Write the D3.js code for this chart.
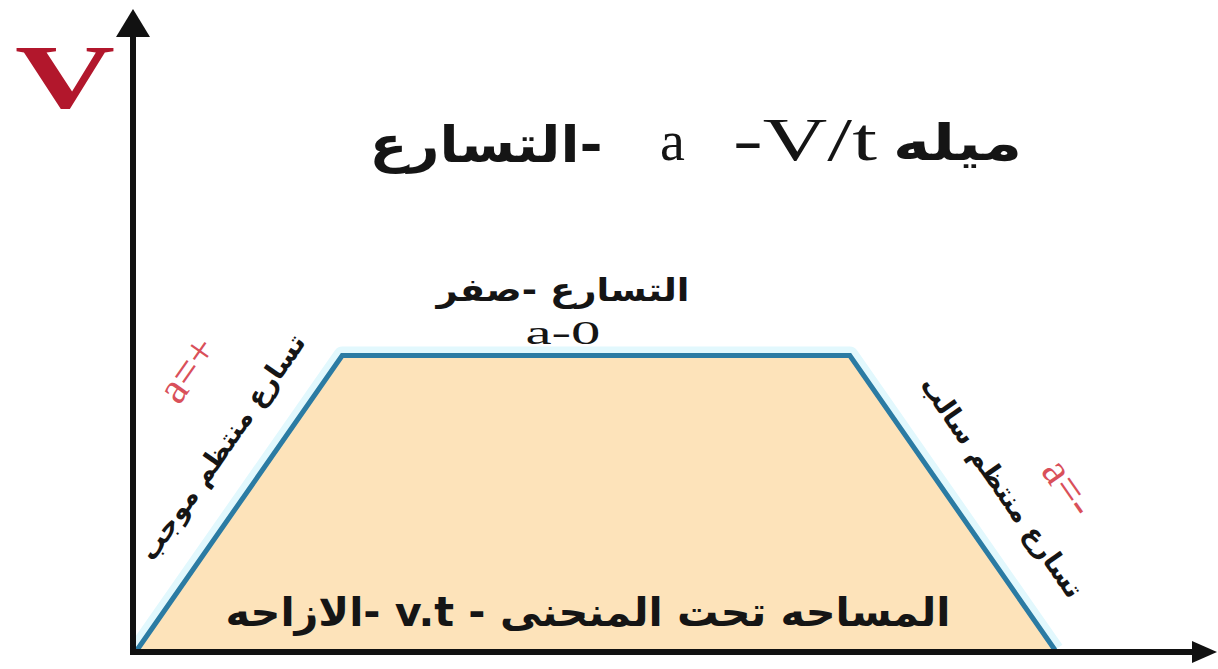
<!DOCTYPE html>
<html>
<head>
<meta charset="utf-8">
<script src="https://cdn.jsdelivr.net/npm/d3@7"></script>
<style>
  body { margin: 0; background: #fff; }
  .ar { font-family: "DejaVu Sans", sans-serif; font-weight: bold; fill: #151515; }
  .lat { font-family: "Liberation Serif", serif; fill: #151515; }
</style>
</head>
<body>
<div id="chart"></div>
<script>
// velocity-time profile: speed up, constant speed, slow down
var times = [0, 1.9, 6.6, 8.5];
var velocity = [0, 4.6, 4.6, 0];

// labels
var axisLabel = "V";
var titleLeft = "-التسارع";
var titleA = "a";
var titleVt = "-V/t";
var titleRight = "ميله";
var flatLabel = "التسارع -صفر";
var flatSub = "a-0";
var riseLabel = "تسارع منتظم موجب";
var riseSign = "a=+";
var fallLabel = "تسارع منتظم سالب";
var fallSign = "a=-";
var areaLabel = "المساحه تحت المنحنى - v.t -الازاحه";

var w = 1218, h = 669;

var svg = d3.select("#chart").append("svg")
    .attr("width", w)
    .attr("height", h);

var x = d3.scaleLinear().domain([0, 10]).range([137, 1217]);
var y = d3.scaleLinear().domain([0, 10]).range([650, 10]);

var pts = times.map(function (t, i) { return [x(t), y(velocity[i])]; });
var line = d3.line();

// soft glow outside the curve
svg.append("path")
    .attr("d", line(pts))
    .attr("fill", "none")
    .attr("stroke", "#e2f8fd")
    .attr("stroke-width", 18)
    .attr("stroke-linejoin", "round");

// area under the curve
svg.append("path")
    .attr("d", line(pts) + "Z")
    .attr("fill", "#fde3ba");

svg.append("path")
    .attr("d", line(pts))
    .attr("fill", "none")
    .attr("stroke", "#2b7ba3")
    .attr("stroke-width", 5)
    .attr("stroke-linejoin", "miter");

// axes with arrow heads
var ox = x(0) - 4, oy = y(0) + 2;
svg.append("line")
    .attr("x1", ox).attr("y1", oy + 3)
    .attr("x2", ox).attr("y2", 34)
    .attr("stroke", "#111").attr("stroke-width", 6);
svg.append("path")
    .attr("d", "M" + ox + ",9L" + (ox - 17) + ",37L" + (ox + 17) + ",37Z")
    .attr("fill", "#111");

svg.append("line")
    .attr("x1", ox - 3).attr("y1", oy)
    .attr("x2", 1195).attr("y2", oy)
    .attr("stroke", "#111").attr("stroke-width", 6);
svg.append("path")
    .attr("d", "M1217," + oy + "L1192," + (oy - 11) + "L1192," + (oy + 11) + "Z")
    .attr("fill", "#111");

// axis label
svg.append("text")
    .attr("class", "lat")
    .attr("x", 15).attr("y", 108)
    .attr("font-size", 92)
    .attr("font-weight", "bold")
    .attr("textLength", 100)
    .attr("lengthAdjust", "spacingAndGlyphs")
    .style("fill", "#b2172c")
    .text(axisLabel);

// title pieces
svg.append("text").attr("class", "ar")
    .attr("x", 486).attr("y", 162)
    .attr("font-size", 50)
    .attr("text-anchor", "middle")
    .attr("direction", "rtl")
    .attr("textLength", 233).attr("lengthAdjust", "spacingAndGlyphs")
    .text(titleLeft);
svg.append("text").attr("class", "lat")
    .attr("x", 660).attr("y", 160)
    .attr("font-size", 56)
    .text(titleA);
svg.append("text").attr("class", "lat")
    .attr("x", 733).attr("y", 160)
    .attr("font-size", 62)
    .attr("textLength", 144).attr("lengthAdjust", "spacingAndGlyphs")
    .text(titleVt);
svg.append("text").attr("class", "ar")
    .attr("x", 893).attr("y", 160)
    .attr("font-size", 50)
    .attr("textLength", 129).attr("lengthAdjust", "spacingAndGlyphs")
    .text(titleRight);

// flat segment label
svg.append("text").attr("class", "ar")
    .attr("x", 563).attr("y", 301)
    .attr("font-size", 32)
    .attr("text-anchor", "middle")
    .attr("direction", "rtl")
    .attr("textLength", 253).attr("lengthAdjust", "spacingAndGlyphs")
    .text(flatLabel);
svg.append("text").attr("class", "lat")
    .attr("x", 563).attr("y", 344)
    .attr("font-size", 34)
    .attr("text-anchor", "middle")
    .attr("textLength", 75).attr("lengthAdjust", "spacingAndGlyphs")
    .text(flatSub);

// slanted labels along the rising and falling edges
var riseAng = Math.atan2(pts[1][1] - pts[0][1], pts[1][0] - pts[0][0]) * 180 / Math.PI;
var fallAng = Math.atan2(pts[3][1] - pts[2][1], pts[3][0] - pts[2][0]) * 180 / Math.PI;

svg.append("text").attr("class", "ar")
    .attr("transform", "translate(222,447) rotate(" + riseAng + ")")
    .attr("font-size", 27)
    .attr("text-anchor", "middle")
    .attr("dy", "0.35em")
    .attr("direction", "rtl")
    .text(riseLabel);
svg.append("text").attr("class", "lat")
    .attr("transform", "translate(188,370) rotate(" + riseAng + ")")
    .attr("font-size", 44)
    .attr("text-anchor", "middle")
    .attr("dy", "0.3em")
    .style("fill", "#d9505a")
    .text(riseSign);

svg.append("text").attr("class", "ar")
    .attr("transform", "translate(1002,487) rotate(" + fallAng + ")")
    .attr("font-size", 27)
    .attr("text-anchor", "middle")
    .attr("dy", "0.35em")
    .attr("direction", "rtl")
    .text(fallLabel);
svg.append("text").attr("class", "lat")
    .attr("transform", "translate(1068,488) rotate(" + fallAng + ")")
    .attr("font-size", 44)
    .attr("text-anchor", "middle")
    .attr("dy", "0.3em")
    .style("fill", "#d9505a")
    .text(fallSign);

// area label
svg.append("text").attr("class", "ar")
    .attr("x", 588).attr("y", 626)
    .attr("font-size", 40)
    .attr("text-anchor", "middle")
    .attr("direction", "rtl")
    .attr("textLength", 725).attr("lengthAdjust", "spacingAndGlyphs")
    .text(areaLabel);
</script>
</body>
</html>
